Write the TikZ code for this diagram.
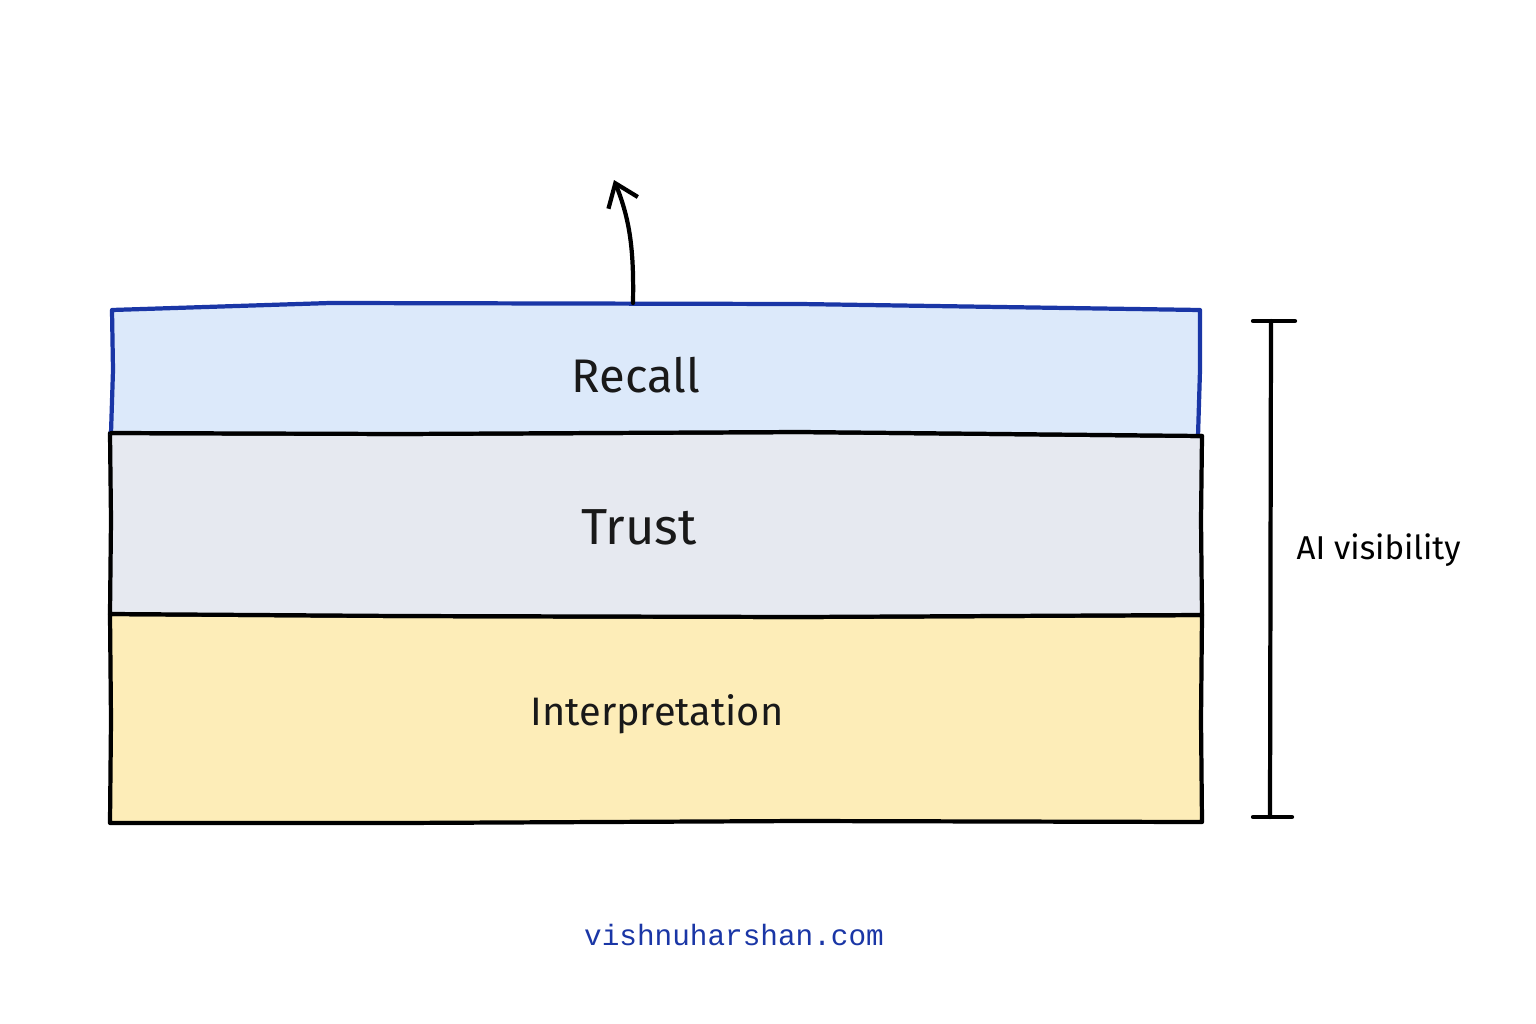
\documentclass[tikz,border=0pt]{standalone}
\usepackage{fontspec}
\setmainfont{Fira Sans}
\newfontfamily\urlfont{Liberation Mono}
\usetikzlibrary{arrows.meta}
\definecolor{recallfill}{HTML}{DCE9FA}
\definecolor{trustfill}{HTML}{E6E9F0}
\definecolor{interpfill}{HTML}{FDEDB8}
\definecolor{penblue}{HTML}{1A36A6}
\tikzset{
  band/.style={line width=1.2pt, line join=round, line cap=round},
  ink/.style={line width=1.2pt, line cap=round, line join=round, black},
  bandlabel/.style={text=black!90},
}
\begin{document}
\begin{tikzpicture}[x=0.01cm,y=-0.01cm]
\useasboundingbox (0,0) rectangle (1536,1024);
\fill[white] (0,0) rectangle (1536,1024);
% bands
\filldraw[band, fill=interpfill, draw=black] (110,614) -- (400,616) -- (800,617) -- (1202,615) -- (1201,720) -- (1202,822) -- (800,821) -- (400,823) -- (110,823) -- (111,720) -- cycle;
\filldraw[band, fill=trustfill, draw=black] (110,433) -- (400,434) -- (800,432) -- (1202,436) -- (1201,520) -- (1202,615) -- (800,617) -- (400,616) -- (110,614) -- (111,520) -- cycle;
\fill[recallfill] (112,310) -- (330,303) -- (800,304) -- (1200,310) -- (1198,436) -- (800,432) -- (400,434) -- (111,433) -- cycle;
\draw[band, draw=penblue] (111,433) -- (113,370) -- (112,310) -- (330,303) -- (800,304) -- (1200,310) -- (1200,370) -- (1198,436);
\draw[band, draw=black] (111,433) -- (400,434) -- (800,432) -- (1202,436);
% labels
\node[bandlabel, font=\fontsize{13.4}{15}\selectfont] (recall) at (636,375) {Recall};
\node[bandlabel, font=\fontsize{14.4}{16}\selectfont] (trust) at (639,527) {Trust};
\node[bandlabel, font=\fontsize{11.3}{13}\selectfont] (interp) at (657,714) {Interpretation};
% arrow
\coordinate (abase) at (633,303);
\coordinate (atip) at (614,180);
\draw[ink, -{Straight Barb[length=6pt,width=9pt,line width=1.2pt]}] (abase) .. controls (634,250) and (630,220) .. (atip);
% bracket
\coordinate (btop) at (1271,321);
\coordinate (bbot) at (1270,817);
\draw[ink] (btop) -- (bbot);
\draw[ink] (1253,321) -- (1295,321);
\draw[ink] (1253,817) -- (1292,817);
\node[anchor=west, inner sep=0pt, font=\fontsize{9.4}{11}\selectfont] (vis) at (1296,550) {AI visibility};
% footer
\node[text=penblue, font=\urlfont\fontsize{8.35}{10}\selectfont] (url) at (734,935) {vishnuharshan.com};
\end{tikzpicture}
\end{document}
